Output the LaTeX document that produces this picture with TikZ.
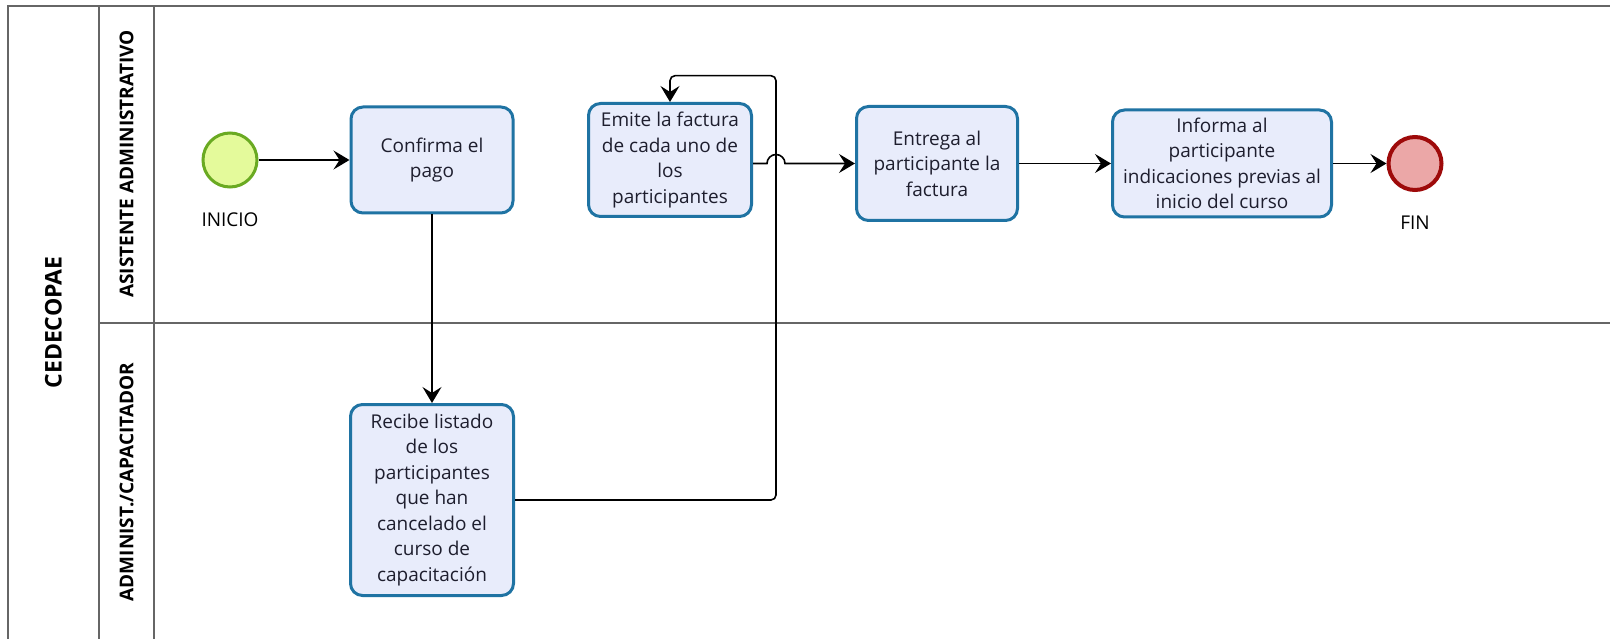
\documentclass[tikz,border=0pt]{standalone}
\usepackage{fontspec}
\setmainfont{Open Sans}
\usetikzlibrary{arrows.meta}
\definecolor{taskfill}{HTML}{E8ECFB}
\definecolor{taskdraw}{HTML}{1F73A3}
\definecolor{startfill}{HTML}{E4FA9B}
\definecolor{startdraw}{HTML}{6AAA22}
\definecolor{endfill}{HTML}{EBA7A7}
\definecolor{enddraw}{HTML}{9E0A0A}
\definecolor{framec}{HTML}{666666}
\definecolor{txt}{HTML}{1E1E2E}
\begin{document}
\begin{tikzpicture}[x=1pt,y=-1pt,
  task/.style={draw=taskdraw, fill=taskfill, line width=3pt, rounded corners=12pt, inner sep=0pt, align=center, font=\fontsize{19}{25.5}\selectfont, text=txt},
  evstart/.style={circle, draw=startdraw, fill=startfill, line width=3pt, minimum size=54pt, inner sep=0pt},
  evend/.style={circle, draw=enddraw, fill=endfill, line width=4pt, minimum size=53pt, inner sep=0pt},
  evlabel/.style={font=\fontsize{19}{22}\selectfont, inner sep=0pt, text=black},
  lanelabel/.style={rotate=90, font=\bfseries\fontsize{19}{22}\selectfont, inner sep=0pt},
  poollabel/.style={rotate=90, font=\bfseries\fontsize{23}{26}\selectfont, inner sep=0pt},
  frame/.style={draw=framec, line width=2pt},
  flow/.style={draw=black, line width=1.6pt, -{Stealth[length=16pt,width=19pt,inset=6pt]}}
]
\fill[white] (0,0) rectangle (1610,639);
\useasboundingbox (0,0) rectangle (1610,639);

% pool and lanes
\draw[frame] (8,639) -- (8,6) -- (1610,6);
\draw[frame] (99,6) -- (99,639);
\draw[frame] (154,6) -- (154,639);
\draw[frame] (99,322.7) -- (1610,322.7);

\node[poollabel] (pool) at (53.5,322.5) {CEDECOPAE};
\node[lanelabel] (lane1) at (126.5,164) {ASISTENTE ADMINISTRATIVO};
\node[lanelabel] (lane2) at (126.5,482) {ADMINIST./CAPACITADOR};

% events
\node[evstart] (start) at (230,160) {};
\node[evlabel] (startlbl) at (230,219.5) {INICIO};
\node[evend] (fin) at (1415,163.5) {};
\node[evlabel] (finlbl) at (1415,222.5) {FIN};

% tasks
\node[task, minimum width=162pt, minimum height=106pt] (confirma) at (432,160) {Confirma el\\pago};
\node[task, minimum width=163pt, minimum height=113pt] (emite) at (670,160) {Emite la factura\\de cada uno de\\los\\participantes};
\node[task, minimum width=161pt, minimum height=114pt] (entrega) at (937,163.5) {Entrega al\\participante la\\factura};
\node[task, minimum width=219pt, minimum height=107pt] (informa) at (1222,163.5) {Informa al\\participante\\indicaciones previas al\\inicio del curso};
\node[task, minimum width=163pt, minimum height=191pt] (recibe) at (432,500) {Recibe listado\\de los\\participantes\\que han\\cancelado el\\curso de\\capacitación};

% connectors
\coordinate (loopx) at (776,0);
\coordinate (loopy) at (0,75.7);
\coordinate (jump) at (767,163.5);

\draw[flow] (start) -- (confirma.west);
\draw[flow] (confirma.south) -- (recibe.north);
\draw[flow, rounded corners=5pt] (recibe.east) -- (recibe.east -| loopx) -- (loopx |- loopy) -- (emite.north |- loopy) -- (emite.north);
\draw[flow] (emite.east |- entrega.west) -- (jump) arc[start angle=180, end angle=360, radius=9] -- (entrega.west);
\draw[flow] (entrega.east) -- (informa.west);
\draw[flow] (informa.east) -- (fin.west);
\end{tikzpicture}
\end{document}
